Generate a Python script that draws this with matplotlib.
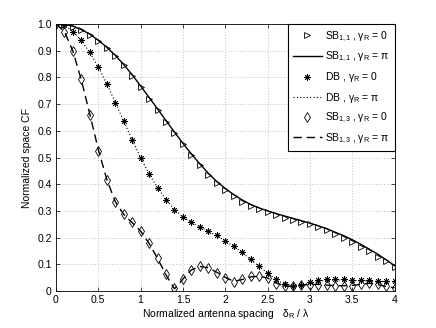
import numpy as np
import matplotlib
matplotlib.use("Agg")
import matplotlib.pyplot as plt

plt.rcParams['font.family'] = ['Liberation Sans', 'DejaVu Sans']
plt.rcParams['mathtext.fontset'] = 'custom'
plt.rcParams['mathtext.rm'] = 'Liberation Sans'
plt.rcParams['mathtext.it'] = 'Liberation Sans:italic'
plt.rcParams['font.size'] = 7.5

# normalized antenna spacing (delta_R / lambda)
spacing = np.linspace(0, 4, 41)

# SB 1,1 gamma_R = 0 (markers) and gamma_R = pi (line)
sb11_g0 = [1.000, 0.997, 0.990, 0.976, 0.959, 0.936, 0.910, 0.880, 0.845, 0.807,
           0.764, 0.720, 0.678, 0.634, 0.591, 0.549, 0.509, 0.471, 0.436, 0.405,
           0.379, 0.355, 0.333, 0.319, 0.306, 0.295, 0.283, 0.273, 0.266, 0.259,
           0.250, 0.239, 0.229, 0.213, 0.200, 0.185, 0.164, 0.148, 0.127, 0.113,
           0.091]
sb11_gpi = [1.000, 0.998, 0.992, 0.979, 0.962, 0.939, 0.913, 0.883, 0.848, 0.810,
            0.768, 0.725, 0.682, 0.638, 0.595, 0.553, 0.513, 0.476, 0.441, 0.410,
            0.384, 0.361, 0.341, 0.324, 0.311, 0.300, 0.290, 0.281, 0.272, 0.263,
            0.254, 0.244, 0.233, 0.220, 0.207, 0.192, 0.175, 0.157, 0.138, 0.117,
            0.095]

# DB gamma_R = 0 (markers) and gamma_R = pi (line)
db_g0 = [1.000, 0.995, 0.970, 0.940, 0.895, 0.840, 0.775, 0.705, 0.635, 0.565,
         0.497, 0.438, 0.386, 0.341, 0.304, 0.278, 0.258, 0.241, 0.226, 0.208,
         0.188, 0.168, 0.146, 0.119, 0.093, 0.068, 0.045, 0.025, 0.018, 0.024,
         0.034, 0.040, 0.044, 0.044, 0.044, 0.040, 0.040, 0.040, 0.038, 0.036,
         0.036]
db_gpi = [1.000, 0.994, 0.972, 0.938, 0.893, 0.839, 0.776, 0.707, 0.636, 0.566,
          0.499, 0.439, 0.387, 0.342, 0.305, 0.277, 0.257, 0.240, 0.224, 0.207,
          0.188, 0.167, 0.144, 0.118, 0.092, 0.066, 0.043, 0.025, 0.019, 0.023,
          0.030, 0.036, 0.040, 0.041, 0.041, 0.039, 0.038, 0.037, 0.036, 0.035,
          0.034]

# SB 1,3 gamma_R = 0 (markers) and gamma_R = pi (line)
sb13_g0 = [1.000, 0.971, 0.900, 0.793, 0.659, 0.526, 0.414, 0.333, 0.288, 0.258,
           0.226, 0.180, 0.125, 0.063, 0.011, 0.046, 0.080, 0.093, 0.086, 0.069,
           0.050, 0.034, 0.044, 0.055, 0.056, 0.050, 0.028, 0.018, 0.018, 0.021,
           0.024, 0.024, 0.021, 0.019, 0.019, 0.020, 0.025, 0.030, 0.025, 0.018,
           0.011]
sb13_gpi = [1.000, 0.972, 0.898, 0.790, 0.662, 0.530, 0.418, 0.335, 0.287, 0.256,
            0.224, 0.178, 0.122, 0.060, 0.008, 0.045, 0.079, 0.092, 0.087, 0.070,
            0.051, 0.036, 0.043, 0.053, 0.055, 0.049, 0.030, 0.019, 0.017, 0.022,
            0.025, 0.025, 0.022, 0.020, 0.020, 0.021, 0.025, 0.029, 0.024, 0.017,
            0.012]

xticks = [0, 0.5, 1, 1.5, 2, 2.5, 3, 3.5, 4]
xticklabels = ['0', '0.5', '1', '1.5', '2', '2.5', '3', '3.5', '4']
yticks = [0, 0.1, 0.2, 0.3, 0.4, 0.5, 0.6, 0.7, 0.8, 0.9, 1.0]
yticklabels = ['0', '0.1', '0.2', '0.3', '0.4', '0.5', '0.6', '0.7', '0.8', '0.9', '1.0']

fig = plt.figure(figsize=(4.36, 3.28), dpi=100)
ax = fig.add_axes([0.1284, 0.1128, 0.7766, 0.814])

ax.plot(spacing, sb11_g0, linestyle='none', marker='>', markersize=4.8,
        markerfacecolor='none', markeredgecolor='k', markeredgewidth=0.6,
        label='SB$_{1{,}1}$ , γ$_\\mathrm{R}$ = 0')
ax.plot(spacing, sb11_gpi, color='k', linewidth=1.0,
        label='SB$_{1{,}1}$ , γ$_\\mathrm{R}$ = π')
ax.plot(spacing, db_g0, linestyle='none', marker=(8, 2, 0), markersize=4.5,
        markeredgecolor='k', markeredgewidth=0.6,
        label='DB , γ$_\\mathrm{R}$ = 0')
ax.plot(spacing, db_gpi, color='k', linestyle=(0, (1, 2)), linewidth=0.8,
        label='DB , γ$_\\mathrm{R}$ = π')
ax.plot(spacing, sb13_g0, linestyle='none', marker='d', markersize=5,
        markerfacecolor='none', markeredgecolor='k', markeredgewidth=0.6,
        label='SB$_{1{,}3}$ , γ$_\\mathrm{R}$ = 0')
ax.plot(spacing, sb13_gpi, color='k', linestyle=(0, (6, 3.5)), linewidth=1.0,
        label='SB$_{1{,}3}$ , γ$_\\mathrm{R}$ = π')

ax.set_xlim(0, 4)
ax.set_ylim(0, 1)
ax.set_xticks(xticks)
ax.set_xticklabels(xticklabels)
ax.set_yticks(yticks)
ax.set_yticklabels(yticklabels)
ax.tick_params(direction='in', top=True, right=True, length=3, width=0.5, pad=3)
ax.grid(True, linestyle=(0, (1, 3)), color='0.55', linewidth=0.5)
for s in ax.spines.values():
    s.set_linewidth(0.6)

ax.set_xlabel('Normalized antenna spacing   δ$_\\mathrm{R}$ / λ', labelpad=1)
ax.set_ylabel('Normalized space CF', labelpad=4)

leg = ax.legend(loc='upper right', borderaxespad=0, fancybox=False,
                framealpha=1, edgecolor='k', handlelength=2.8,
                labelspacing=0.6, handletextpad=0.3, borderpad=0.5)
leg.get_frame().set_linewidth(0.8)

fig.savefig('out.png', dpi=100)
